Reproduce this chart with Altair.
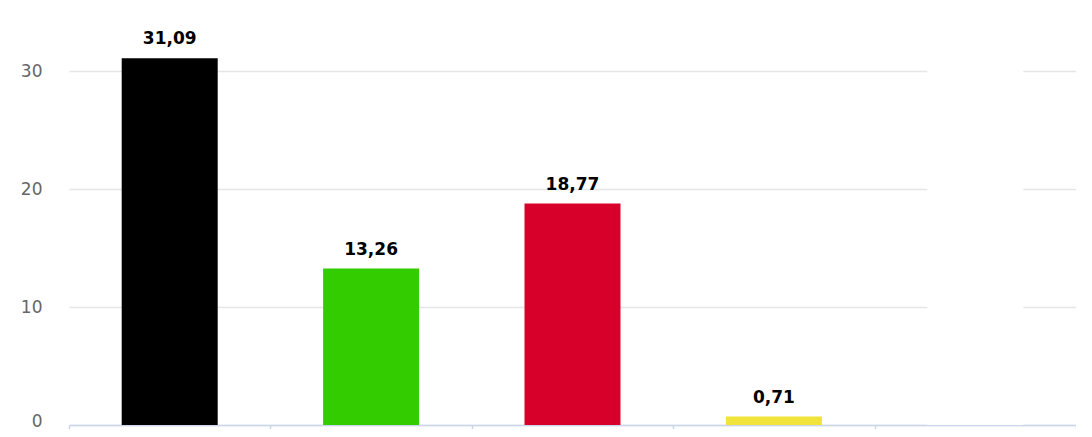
import altair as alt
import pandas as pd

categories = ["CDU", "Grüne", "SPD", "FDP", "Sonstige"]
values = [31.09, 13.26, 18.77, 0.71, 36.17]
labels = ["31,09", "13,26", "18,77", "0,71", ""]
colors = ["#000000", "#33cc00", "#d7002b", "#f2e33a", "#ffffff"]

df = pd.DataFrame({"cat": categories, "val": values, "lab": labels})

FONT = "DejaVu Sans"

x = alt.X("cat:N", sort=categories, title=None,
          scale=alt.Scale(paddingInner=0, paddingOuter=0),
          axis=alt.Axis(labels=False, grid=False, tickBand="extent",
                        domainColor="#ccd6eb", tickColor="#ccd6eb",
                        domainWidth=1.5, tickWidth=1.5, tickSize=14))
y = alt.Y("val:Q", title=None,
          scale=alt.Scale(domain=[0, 35], nice=False),
          axis=alt.Axis(values=[0, 10, 20, 30], domain=False, ticks=False,
                        gridColor="#e6e6e6", gridWidth=1.5,
                        labelColor="#666666", labelFontSize=17, labelFont=FONT,
                        labelPadding=27,
                        labelOffset=alt.condition("datum.value == 0",
                                                  alt.value(-4), alt.value(0))))

bars = alt.Chart(df).mark_bar(size=96, clip=True).encode(
    x=x, y=y,
    color=alt.Color("cat:N", sort=categories, legend=None,
                    scale=alt.Scale(domain=categories, range=colors)),
)

text = alt.Chart(df).mark_text(font=FONT, fontSize=17, fontWeight="bold",
                               color="#000000", baseline="alphabetic", dy=-14).encode(
    x=alt.X("cat:N", sort=categories),
    y=alt.Y("val:Q"),
    text="lab:N",
)

chart = alt.layer(bars, text).properties(
    width=1007, height=413,
    padding={"left": 61, "top": 4, "right": 0, "bottom": 4},
    autosize=alt.AutoSizeParams(type="none"),
).configure_view(stroke=None)

chart.save("out.html", embed_options={"renderer": "svg", "actions": False})
